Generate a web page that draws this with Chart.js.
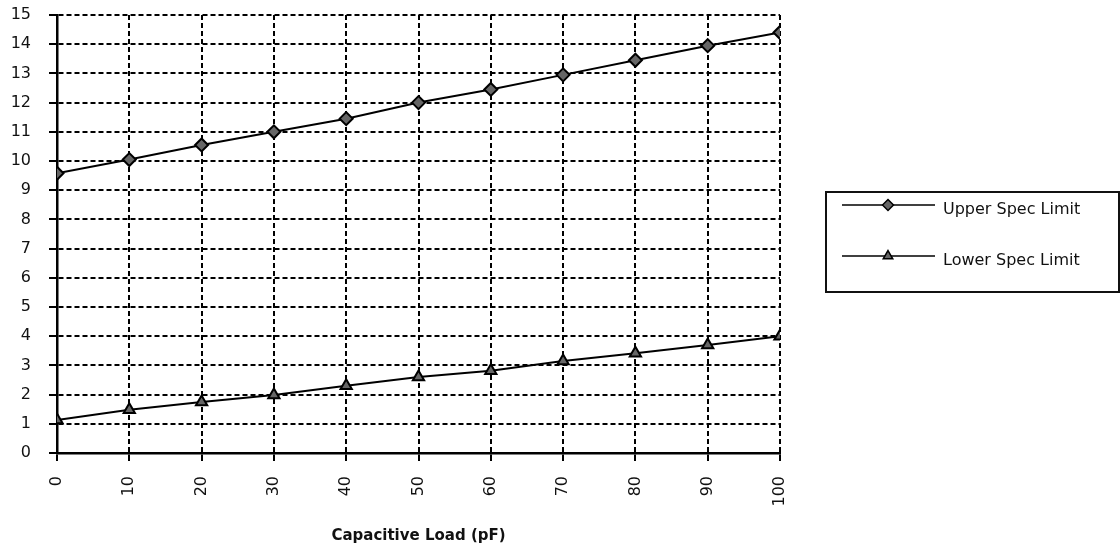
<!DOCTYPE html>
<html><head><meta charset="utf-8">
<script src="https://cdn.jsdelivr.net/npm/chart.js@4/dist/chart.umd.min.js"></script>
<style>html,body{margin:0;padding:0;background:#fff}#wrap{width:1120px;height:555px}</style>
</head><body><div id="wrap"><canvas id="c" width="1120" height="555"></canvas></div>
<script>
const loads = [0,10,20,30,40,50,60,70,80,90,100];
const upperSpec = [9.58,10.05,10.55,11.0,11.45,12.0,12.45,12.95,13.45,13.95,14.4];
const lowerSpec = [1.13,1.48,1.75,1.99,2.3,2.6,2.82,3.15,3.42,3.7,4.0];
const seriesNames = ['Upper Spec Limit','Lower Spec Limit'];
const xTitle = 'Capacitive Load (pF)';
const FONT = '"DejaVu Sans", sans-serif';

const legendPlugin = {
  id:'customLegend',
  afterDraw(chart){
    const ctx = chart.ctx;
    ctx.save();
    ctx.strokeStyle='#111'; ctx.lineWidth=2;
    ctx.strokeRect(826,192,293,100);
    const rows=[{y:205,style:'rectRot'},{y:256,style:'triangle'}];
    rows.forEach((r,i)=>{
      ctx.strokeStyle='#000'; ctx.lineWidth=1.5;
      ctx.beginPath(); ctx.moveTo(842,r.y); ctx.lineTo(935,r.y); ctx.stroke();
      ctx.fillStyle='#666'; ctx.strokeStyle='#000'; ctx.lineWidth=1.5;
      Chart.helpers.drawPoint(ctx,{pointStyle:r.style,radius:5.5,rotation:0,borderWidth:1.5},888,r.y);
      ctx.fillStyle='#111'; ctx.font='16px '+FONT; ctx.textBaseline='middle'; ctx.textAlign='left';
      ctx.fillText(seriesNames[i],943,r.y+5);
    });
    ctx.restore();
  }
};

const mk = (name,data,style)=>({
  label:name,
  data:loads.map((x,i)=>({x,y:data[i]})),
  borderColor:'#000',borderWidth:2,
  pointStyle:style,pointRadius:6.5,pointHoverRadius:6.5,
  pointBackgroundColor:'#666',pointBorderColor:'#000',pointBorderWidth:2,
  tension:0,fill:false
});

new Chart(document.getElementById('c'),{
  type:'line',
  data:{datasets:[mk(seriesNames[0],upperSpec,'rectRot'),mk(seriesNames[1],lowerSpec,'triangle')]},
  options:{
    responsive:false,animation:false,
    layout:{padding:{left:0,right:340,top:15,bottom:10}},
    plugins:{legend:{display:false},tooltip:{enabled:false}},
    scales:{
      x:{type:'linear',min:0,max:100,
        ticks:{stepSize:10,minRotation:90,maxRotation:90,color:'#111',font:{family:FONT,size:16},padding:15},
        grid:{color:'#000',lineWidth:2,tickLength:8,tickBorderDash:[],tickColor:'#000'},
        border:{display:true,color:'#000',width:2.5,dash:[5,3]},
        title:{display:true,text:xTitle,color:'#111',font:{family:FONT,size:15,weight:'bold'},padding:{top:18,bottom:0}},
        afterFit(s){s.height=555-453-10;s.paddingLeft=0;s.paddingRight=0;}
      },
      y:{min:0,max:15,
        ticks:{stepSize:1,color:'#111',font:{family:FONT,size:16},padding:18},
        grid:{color:'#000',lineWidth:2,tickLength:8,tickBorderDash:[],tickColor:'#000'},
        border:{display:true,color:'#000',width:2.5,dash:[5,3]},
        afterFit(s){s.width=57;s.paddingTop=0;s.paddingBottom=0;}
      }
    }
  },
  plugins:[legendPlugin]
});
</script></body></html>
